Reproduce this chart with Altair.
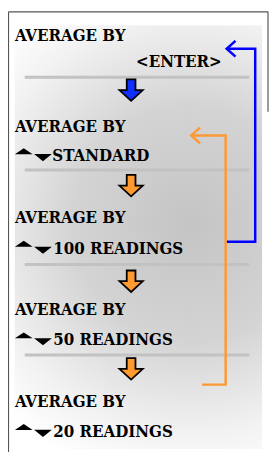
import altair as alt
import pandas as pd

# ---- data (reference pixel coordinates) ----
label_text = ["AVERAGE BY", "<ENTER>", "AVERAGE BY", "STANDARD", "AVERAGE BY",
              "100 READINGS", "AVERAGE BY", "50 READINGS", "AVERAGE BY", "20 READINGS"]
label_x = [15, 138, 15, 53, 15, 54, 15, 54, 15, 54]
label_y = [38, 65, 131, 160, 223, 254, 316, 347, 410, 440]

tri_rows = [160, 254, 347, 440]          # baselines of rows with up/down keys

sep_y = [75, 169, 265, 357]
sep_x0, sep_x1 = 25, 253

arrow_x = [133, 133, 133, 133]
arrow_y = [88, 185, 282, 371]
arrow_kind = ["blue", "orange", "orange", "orange"]

loop_id = ["blue"] * 4 + ["orange"] * 4
loop_x = [230, 259, 259, 230, 195, 229, 229, 205]
loop_y = [46, 46, 242, 242, 134, 134, 387, 387]

head_id = ["bh", "bh", "bh", "oh", "oh", "oh"]
head_col = ["blue", "blue", "blue", "orange", "orange", "orange"]
head_x = [239, 230, 239, 203, 194, 203]
head_y = [38, 46, 54, 126, 134, 142]

W, H = 265, 444
xs = alt.Scale(domain=[8, 8 + W], nice=False, zero=False)
ys = alt.Scale(domain=[8, 8 + H], nice=False, zero=False, reverse=True)

def X(f):
    return alt.X(f, type="quantitative", scale=xs, axis=None)

def Y(f):
    return alt.Y(f, type="quantitative", scale=ys, axis=None)

# background shading
bg = pd.DataFrame({"x": [15], "x2": [266], "y": [22], "y2": [452]})
grad = {
    "gradient": "radial",
    "x1": 0.62, "y1": 0.47, "r1": 0,
    "x2": 0.62, "y2": 0.47, "r2": 0.62,
    "stops": [
        {"offset": 0.0, "color": "#c4c4c4"},
        {"offset": 0.45, "color": "#d4d4d4"},
        {"offset": 0.8, "color": "#f2f2f2"},
        {"offset": 1.0, "color": "#ffffff"},
    ],
}
bg_layer = alt.Chart(bg).mark_rect(color=grad).encode(
    x=X("x"), x2="x2", y=Y("y"), y2="y2")

# border (left, top, right-top part)
border = pd.DataFrame({
    "x": [8.5, 8.5, 272], "x2": [8.5, 272, 272],
    "y": [8.5, 8.5, 8.5], "y2": [456, 8.5, 110]})
border_layer = alt.Chart(border).mark_rule(color="#555555", strokeWidth=1.2).encode(
    x=X("x"), x2="x2", y=Y("y"), y2="y2")

# separators
sep = pd.DataFrame({"y": sep_y, "x": [sep_x0] * 4, "x2": [sep_x1] * 4})
sep_layer = alt.Chart(sep).mark_rule(color="#c2c2c2", strokeWidth=3).encode(
    x=X("x"), x2="x2", y=Y("y"))

# loop lines
loops = pd.DataFrame({"id": loop_id, "x": loop_x, "y": loop_y,
                      "o": list(range(len(loop_x)))})
col_scale = alt.Scale(domain=["blue", "orange"], range=["#0000ff", "#ff9933"])
loop_layer = alt.Chart(loops).mark_line(strokeWidth=2.5, strokeJoin="miter").encode(
    x=X("x"), y=Y("y"), order="o:Q",
    color=alt.Color("id:N", scale=col_scale, legend=None), detail="id:N")

heads = pd.DataFrame({"id": head_id, "c": head_col, "x": head_x, "y": head_y,
                      "o": list(range(len(head_x)))})
head_layer = alt.Chart(heads).mark_line(strokeWidth=2.5, strokeJoin="miter").encode(
    x=X("x"), y=Y("y"), order="o:Q",
    color=alt.Color("c:N", scale=col_scale, legend=None), detail="id:N")

# block down arrows
arr = pd.DataFrame({"x": arrow_x, "y": arrow_y, "k": arrow_kind})
arrow_path = "M-0.375,-0.92 L0.375,-0.92 L0.375,0 L1,0 L0,0.92 L-1,0 L-0.375,0 Z"
arr_scale = alt.Scale(domain=["blue", "orange"], range=["#1030ff", "#ff9a30"])
arrow_layer = alt.Chart(arr).mark_point(
    shape=arrow_path, size=560, filled=True, opacity=1,
    stroke="#000000", strokeWidth=1.8).encode(
    x=X("x"), y=Y("y"),
    fill=alt.Fill("k:N", scale=arr_scale, legend=None))

# up/down key triangles
up = pd.DataFrame({"x": [24] * 4, "y": [b - 10 for b in tri_rows]})
dn = pd.DataFrame({"x": [43.5] * 4, "y": [b - 3.5 for b in tri_rows]})
up_layer = alt.Chart(up).mark_point(
    shape="M-1,0.33 L1,0.33 L0,-0.33 Z", size=324, filled=True,
    color="#000000", opacity=1).encode(x=X("x"), y=Y("y"))
dn_layer = alt.Chart(dn).mark_point(
    shape="M-1,-0.4 L1,-0.4 L0,0.4 Z", size=324, filled=True,
    color="#000000", opacity=1).encode(x=X("x"), y=Y("y"))

# texts
lab = pd.DataFrame({"t": label_text, "x": label_x, "y": label_y})
text_layer = alt.Chart(lab).mark_text(
    align="left", baseline="alphabetic",
    font="DejaVu Serif Condensed, DejaVu Serif",
    fontWeight="bold", fontSize=17, color="#000000").encode(
    x=X("x"), y=Y("y"), text="t:N")

chart = alt.layer(
    bg_layer, border_layer, sep_layer, loop_layer, head_layer,
    arrow_layer, up_layer, dn_layer, text_layer
).properties(
    width=W, height=H, padding=0,
    autosize=alt.AutoSizeParams(type="none"),
    background="#ffffff",
).configure_view(stroke=None)

chart.save("out.html", embed_options={"renderer": "svg", "actions": False})
